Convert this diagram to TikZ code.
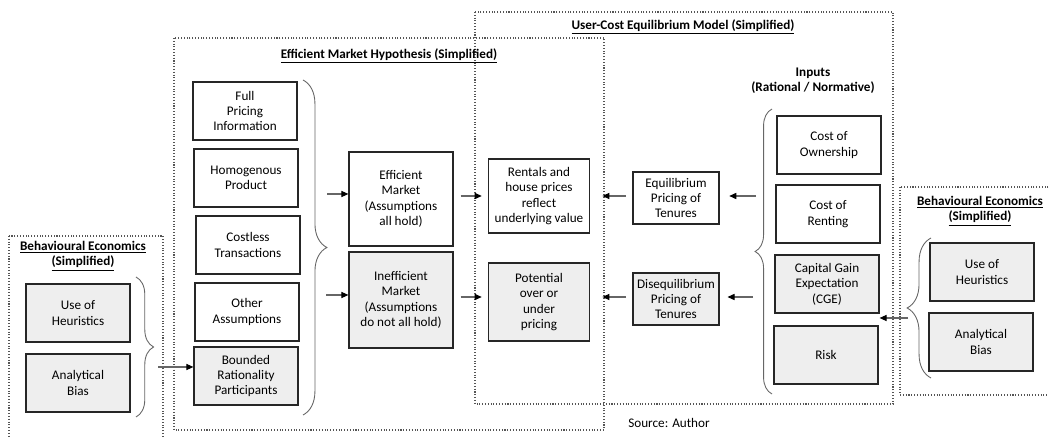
\documentclass[tikz,border=0pt]{standalone}
\usepackage{fontspec}
\setmainfont{Carlito}
\usetikzlibrary{arrows.meta,decorations.pathreplacing}
\definecolor{boxgrey}{HTML}{EEEEEE}
\definecolor{framegrey}{HTML}{555555}

\begin{document}
\begin{tikzpicture}[x=0.02cm, y=-0.02cm,
    every node/.style={font=\fontsize{7.5}{8.8}\selectfont, align=center},
    box/.style={draw=black!85, line width=0.7pt, minimum width=2.08cm, minimum height=1.16cm, inner sep=1pt},
    shaded/.style={box, fill=boxgrey},
    frame/.style={draw=framegrey, densely dotted, line width=0.6pt},
    heading/.style={font=\fontsize{7.5}{8.8}\selectfont\bfseries},
    curly/.style={draw=black!60, line width=0.5pt, decorate, decoration={brace, amplitude=#1}},
    arr/.style={draw=black!60, line width=0.6pt, -{Triangle[black, length=4pt, width=3.5pt]}}]
  \useasboundingbox (0,0) rectangle (1049,438);

  \draw[frame] (9,236) rectangle (163,445);
  \draw[frame] (174,38) rectangle (604,430);
  \draw[frame] (475,12) rectangle (893,404);
  \draw[frame] (900,187) rectangle (1060,395);

  \node[heading] (lbetitle) at (83,256) {\underline{Behavioural Economics}\\\underline{(Simplified)}};
  \node[heading] (emhtitle) at (389,56) {\underline{Efficient Market Hypothesis (Simplified)}};
  \node[heading] (ucetitle) at (683,27) {\underline{User-Cost Equilibrium Model (Simplified)}};
  \node[heading] (inputs) at (813,81) {Inputs\\(Rational / Normative)};
  \node[heading] (rbetitle) at (980,211) {\underline{Behavioural Economics}\\\underline{(Simplified)}};
  \node (source) at (669,423) {Source: Author};

  \node[shaded] (lheur) at (78,313) {Use of\\Heuristics};
  \node[shaded] (lbias) at (78,383) {Analytical\\Bias};

  \node[box] (fullp) at (245,111) {Full\\Pricing\\Information};
  \node[box] (homog) at (246,178) {Homogenous\\Product};
  \node[box] (costless) at (248,245) {Costless\\Transactions};
  \node[box] (other) at (247,312) {Other\\Assumptions};
  \node[shaded] (bounded) at (246,376) {Bounded\\Rationality\\Participants};

  \node[box, minimum height=1.88cm] (effm) at (401,199) {Efficient\\Market\\(Assumptions\\all hold)};
  \node[shaded, minimum height=1.92cm] (ineffm) at (401,300) {Inefficient\\Market\\(Assumptions\\do not all hold)};

  \node[box, minimum width=2.02cm, minimum height=1.48cm] (rentals) at (539,196) {Rentals and\\house prices\\reflect\\underlying value};
  \node[shaded, minimum width=2.02cm, minimum height=1.56cm] (potential) at (539,302) {Potential\\over or\\under\\pricing};

  \node[box, minimum width=1.72cm, minimum height=1.04cm] (equil) at (676,198) {Equilibrium\\Pricing of\\Tenures};
  \node[shaded, minimum width=1.72cm, minimum height=1.04cm] (disequil) at (676,299) {Disequilibrium\\Pricing of\\Tenures};

  \node[box] (costown) at (829,145) {Cost of\\Ownership};
  \node[box] (costrent) at (828,214) {Cost of\\Renting};
  \node[shaded] (cge) at (827,284) {Capital Gain\\Expectation\\(CGE)};
  \node[shaded] (risk) at (826,355) {Risk};

  \node[shaded] (rheur) at (982,272) {Use of\\Heuristics};
  \node[shaded] (rbias) at (981,342) {Analytical\\Bias};

  \draw[curly=10pt] (136,277) -- (136,417);
  \draw[curly=13.6pt] (303,80) -- (303,415);
  \draw[curly=9.6pt] (772,394) -- (772,109);
  \draw[curly=13.6pt] (931,378) -- (931,238);

  \coordinate (lbtip) at (158,367);
  \coordinate (emhtop) at (327,194);
  \coordinate (emhbot) at (326,295);
  \coordinate (inq) at (756,196);
  \coordinate (inr) at (753,297);
  \coordinate (rbtip) at (908,318);

  \draw[arr] (lbtip) -- (bounded.west |- lbtip);
  \draw[arr] (emhtop) -- (effm.west |- emhtop);
  \draw[arr] (emhbot) -- (ineffm.west |- emhbot);
  \draw[arr, shorten <=4pt, shorten >=3.5pt] (effm.east |- rentals) -- (rentals.west);
  \draw[arr, shorten <=4pt, shorten >=3.5pt] (ineffm.east |- 0,297) -- (potential.west |- 0,297);
  \draw[arr, shorten <=3.5pt, shorten >=7pt] (equil.west |- rentals) -- (rentals.east);
  \draw[arr, shorten <=3.5pt, shorten >=7pt] (disequil.west |- 0,297) -- (potential.east |- 0,297);
  \draw[arr, shorten >=5.5pt] (inq) -- (equil.east |- inq);
  \draw[arr, shorten >=4.5pt] (inr) -- (disequil.east |- inr);
  \draw[arr] (rbtip) -- (cge.east |- rbtip);
\end{tikzpicture}
\end{document}
